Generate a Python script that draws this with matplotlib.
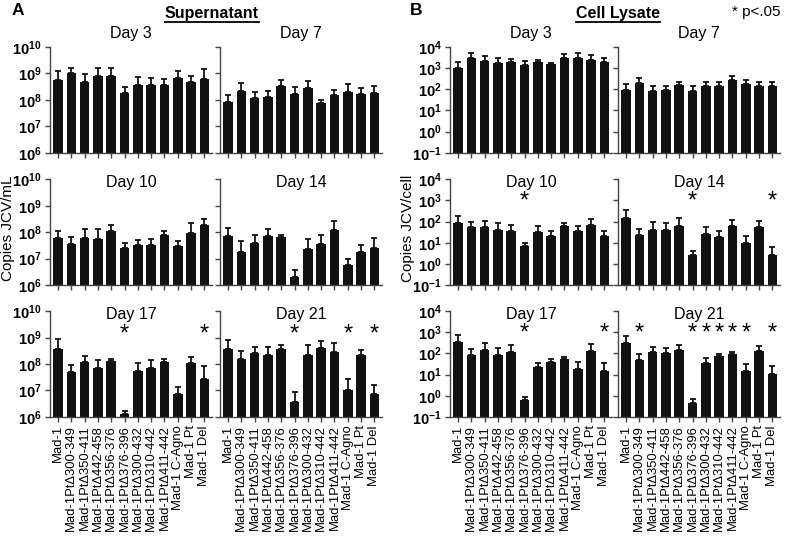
import numpy as np
import matplotlib
matplotlib.use("Agg")
import matplotlib.pyplot as plt
from matplotlib.lines import Line2D

plt.rcParams['font.family'] = ['Liberation Sans', 'DejaVu Sans']
plt.rcParams['mathtext.fontset'] = 'custom'
plt.rcParams['mathtext.rm'] = 'Liberation Sans'
plt.rcParams['mathtext.bf'] = 'Liberation Sans:bold'

strains = ["Mad-1", "Mad-1PtΔ300-349", "Mad-1PtΔ350-411", "Mad-1PtΔ442-458",
           "Mad-1PtΔ356-376", "Mad-1PtΔ376-396", "Mad-1PtΔ300-432", "Mad-1PtΔ310-442",
           "Mad-1PtΔ411-442", "Mad-1 C-Agno", "Mad-1 Pt", "Mad-1 Del"]
days = ["Day 3", "Day 7", "Day 10", "Day 14", "Day 17", "Day 21"]

# supernatant, copies JCV/mL (mean and top of error bar)
sn_d3 = [5.6e8, 1.0e9, 4.9e8, 7.9e8, 8.0e8, 1.8e8, 3.6e8, 3.6e8, 3.6e8, 7.0e8, 4.6e8, 6.1e8]
sn_d3_up = [1.23e9, 1.62e9, 9.4e8, 1.55e9, 1.62e9, 3.0e8, 7.1e8, 6.7e8, 6.3e8, 1.26e9, 7.9e8, 1.41e9]
sn_d7 = [8.7e7, 2.2e8, 1.16e8, 1.26e8, 3.3e8, 1.6e8, 2.9e8, 7.5e7, 1.5e8, 2.0e8, 1.6e8, 1.9e8]
sn_d7_up = [1.55e8, 4.5e8, 2.0e8, 2.2e8, 5.6e8, 3.2e8, 5.1e8, 1.0e8, 2.4e8, 3.9e8, 2.9e8, 3.35e8]
sn_d10 = [6.0e7, 3.7e7, 6.1e7, 5.3e7, 1.15e8, 2.5e7, 3.4e7, 3.4e7, 8.1e7, 2.9e7, 9.1e7, 1.9e8]
sn_d10_up = [1.15e8, 6.5e7, 1.33e8, 1.33e8, 1.95e8, 4.0e7, 5.1e7, 5.6e7, 1.15e8, 4.6e7, 2.2e8, 3.2e8]
sn_d14 = [6.9e7, 1.8e7, 4.0e7, 7.5e7, 6.5e7, 2.1e6, 2.4e7, 3.5e7, 1.2e8, 5.6e6, 1.8e7, 2.5e7]
sn_d14_up = [1.4e8, 4.5e7, 8.1e7, 1.33e8, 7.9e7, 3.6e6, 5.6e7, 7.9e7, 2.75e8, 1.0e7, 3.2e7, 6.0e7]
sn_d17 = [3.7e8, 4.9e7, 1.15e8, 7.1e7, 1.33e8, 1.26e6, 5.3e7, 7.1e7, 1.15e8, 7.1e6, 1.1e8, 2.7e7]
sn_d17_up = [8.7e8, 9.1e7, 2.0e8, 1.4e8, 1.55e8, 1.7e6, 1.06e8, 1.45e8, 1.6e8, 1.4e7, 1.9e8, 8.7e7]
sn_d21 = [3.7e8, 1.55e8, 2.6e8, 2.2e8, 3.7e8, 3.6e6, 2.2e8, 3.9e8, 2.9e8, 1.06e7, 2.2e8, 7.1e6]
sn_d21_up = [7.9e8, 3.2e8, 4.5e8, 4.5e8, 5.3e8, 8.7e6, 5.3e8, 7.5e8, 6.0e8, 2.6e7, 3.5e8, 1.6e7]

# cell lysate, copies JCV/cell
cl_d3 = [1.05e3, 2.9e3, 2.15e3, 1.8e3, 2.0e3, 1.35e3, 1.95e3, 1.5e3, 2.9e3, 3.1e3, 2.5e3, 1.9e3]
cl_d3_up = [1.95e3, 5.2e3, 3.7e3, 2.9e3, 2.75e3, 2.15e3, 2.3e3, 1.8e3, 4.7e3, 5.2e3, 4.4e3, 3.1e3]
cl_d7 = [93, 190, 87, 93, 160, 81, 145, 145, 270, 180, 148, 138]
cl_d7_up = [178, 340, 148, 138, 234, 138, 234, 229, 437, 270, 234, 229]
cl_d10 = [87, 54, 54, 42, 35, 6.9, 32, 20, 60, 35, 68, 20]
cl_d10_up = [178, 93, 105, 83, 69, 10, 60, 35, 87, 65, 133, 35]
cl_d14 = [148, 24, 41, 42, 65, 2.6, 25, 19, 63, 10, 54, 2.6]
cl_d14_up = [363, 46, 93, 83, 145, 4.1, 54, 35, 120, 20, 112, 6.3]
cl_d17 = [355, 83, 145, 83, 120, 0.65, 22, 41, 56, 19, 133, 14]
cl_d17_up = [724, 158, 295, 170, 245, 0.87, 36, 54, 65, 41, 275, 34]
cl_d21 = [316, 49, 120, 100, 145, 0.46, 34, 75, 93, 14, 130, 10.5]
cl_d21_up = [645, 93, 204, 170, 245, 0.72, 63, 89, 120, 30, 229, 26]

# significant bars (index into strains)
sn_stars = [[], [], [], [], [5, 11], [5, 9, 11]]
cl_stars = [[], [], [5], [5, 11], [5, 11], [1, 5, 6, 7, 8, 9, 11]]

sn_means = [sn_d3, sn_d7, sn_d10, sn_d14, sn_d17, sn_d21]
sn_tops = [sn_d3_up, sn_d7_up, sn_d10_up, sn_d14_up, sn_d17_up, sn_d21_up]
cl_means = [cl_d3, cl_d7, cl_d10, cl_d14, cl_d17, cl_d21]
cl_tops = [cl_d3_up, cl_d7_up, cl_d10_up, cl_d14_up, cl_d17_up, cl_d21_up]

fig = plt.figure(figsize=(8, 5.4), dpi=100)

rows_bottom = [0.717, 0.472, 0.228]
row_h = 0.196
col_w = 0.203
x = np.arange(len(strains))
spine_col = "#444444"


def draw_panel(lefts, means, tops, stars, ylo, yhi, exps, star_y, ylabel):
    axes = []
    for i in range(6):
        r, c = divmod(i, 2)
        ax = fig.add_axes([lefts[c], rows_bottom[r], col_w, row_h])
        m = np.array(means[i])
        t = np.array(tops[i])
        ax.set_yscale("log")
        ax.bar(x, m - ylo, bottom=ylo, width=0.72, color="#111111")
        ax.errorbar(x, m, yerr=[np.zeros_like(m), t - m], fmt="none",
                    ecolor="#111111", elinewidth=1.3, capsize=2.5, capthick=1.3)
        for s in stars[i]:
            ax.text(s, star_y, "*", ha="center", va="center", fontsize=17)
        ax.set_ylim(ylo, yhi)
        ax.set_xlim(-0.6, len(strains) - 0.4)
        ax.set_yticks([10.0 ** e for e in exps])
        ax.minorticks_off()
        for side in ["top", "right"]:
            ax.spines[side].set_visible(False)
        for side in ["left", "bottom"]:
            ax.spines[side].set_color(spine_col)
            ax.spines[side].set_linewidth(1.0)
        ax.tick_params(axis="both", direction="out", length=3.5, width=1.0,
                       color=spine_col, pad=2.5)
        ax.set_xticks(x)
        if r == 2:
            ax.set_xticklabels(strains, rotation=90, fontsize=9.4)
        else:
            ax.set_xticklabels([])
        if c == 0:
            ax.set_yticklabels([r"$\mathbf{10^{%d}}$" % e for e in exps], fontsize=10.5)
        else:
            ax.set_yticklabels([])
        ty = 1.13 if r == 0 else 0.97
        ax.text(0.5, ty, days[i], transform=ax.transAxes, ha="center",
                va="center", fontsize=11.5)
        axes.append(ax)
    fig.text(lefts[0] - 0.053, 0.578, ylabel,
             rotation=90, ha="center", va="center", fontsize=11)
    return axes


draw_panel([0.0625, 0.275], sn_means, sn_tops, sn_stars, 1e6, 1e10,
           [6, 7, 8, 9, 10], 1.25e9, "Copies JCV/mL")
draw_panel([0.5625, 0.7725], cl_means, cl_tops, cl_stars, 1e-1, 1e4,
           [-1, 0, 1, 2, 3, 4], 900, "Copies JCV/cell")

fig.text(0.015, 0.98, "A", fontsize=12.5, fontweight="bold", va="center")
fig.text(0.512, 0.98, "B", fontsize=12.5, fontweight="bold", va="center")
fig.text(0.975, 0.977, "* p<.05", fontsize=11, ha="right", va="center")

heads = [fig.text(0.265, 0.975, "Supernatant", fontsize=11.5, fontweight="bold",
                  ha="center", va="center"),
         fig.text(0.773, 0.975, "Cell Lysate", fontsize=11.5, fontweight="bold",
                  ha="center", va="center")]
renderer = fig.canvas.get_renderer()
for h in heads:
    bb = h.get_window_extent(renderer).transformed(fig.transFigure.inverted())
    fig.add_artist(Line2D([bb.x0, bb.x1], [bb.y0 - 0.002, bb.y0 - 0.002],
                          transform=fig.transFigure, color="black", lw=1.3))

fig.savefig("out.png", dpi=100)
